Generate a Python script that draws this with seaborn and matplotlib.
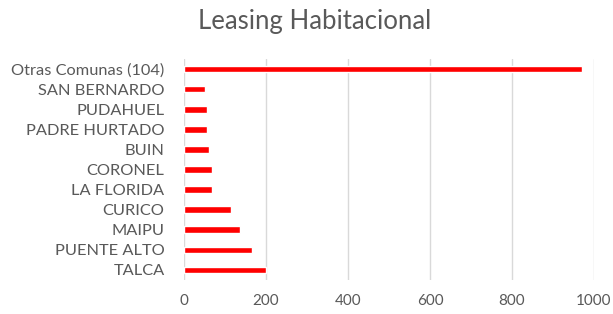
import matplotlib
matplotlib.use("Agg")
import matplotlib.pyplot as plt
import seaborn as sns
import pandas as pd

comunas = ["Otras Comunas (104)", "SAN BERNARDO", "PUDAHUEL", "PADRE HURTADO", "BUIN",
           "CORONEL", "LA FLORIDA", "CURICO", "MAIPU", "PUENTE ALTO", "TALCA"]
valores = [971, 50, 55, 55, 60, 69, 69, 115, 137, 165, 201]
xticks = [0, 200, 400, 600, 800, 1000]
titulo = "Leasing Habitacional"

sns.set_theme(style="white")
plt.rcParams['font.family'] = ['Lato', 'DejaVu Sans']

df = pd.DataFrame({"comuna": comunas, "valor": valores})

fig = plt.figure(figsize=(6.13, 3.14), dpi=100)
ax = fig.add_axes([184/613, 1-280/314, (594-184)/613, (280-59)/314])
sns.barplot(data=df, y="comuna", x="valor", orient="h", color="#ff0000",
            saturation=1, width=0.33, ax=ax)
ax.set_xlim(0, 1000)
ax.set_ylim(10.5, -0.5)
ax.set_xticks(xticks)
ax.xaxis.grid(True, color="#d9d9d9", linewidth=1)
ax.set_axisbelow(True)
for s in ax.spines.values():
    s.set_visible(False)
ax.set_xlabel("")
ax.set_ylabel("")
ax.tick_params(axis="both", length=0, colors="#595959")
ax.tick_params(axis="y", labelsize=11.8, pad=14)
ax.tick_params(axis="x", labelsize=11, pad=10)
fig.text(314.5/613, 1-21/314, titulo, ha="center", va="center", fontsize=18.5, color="#595959")
fig.savefig("out.png", dpi=100)
